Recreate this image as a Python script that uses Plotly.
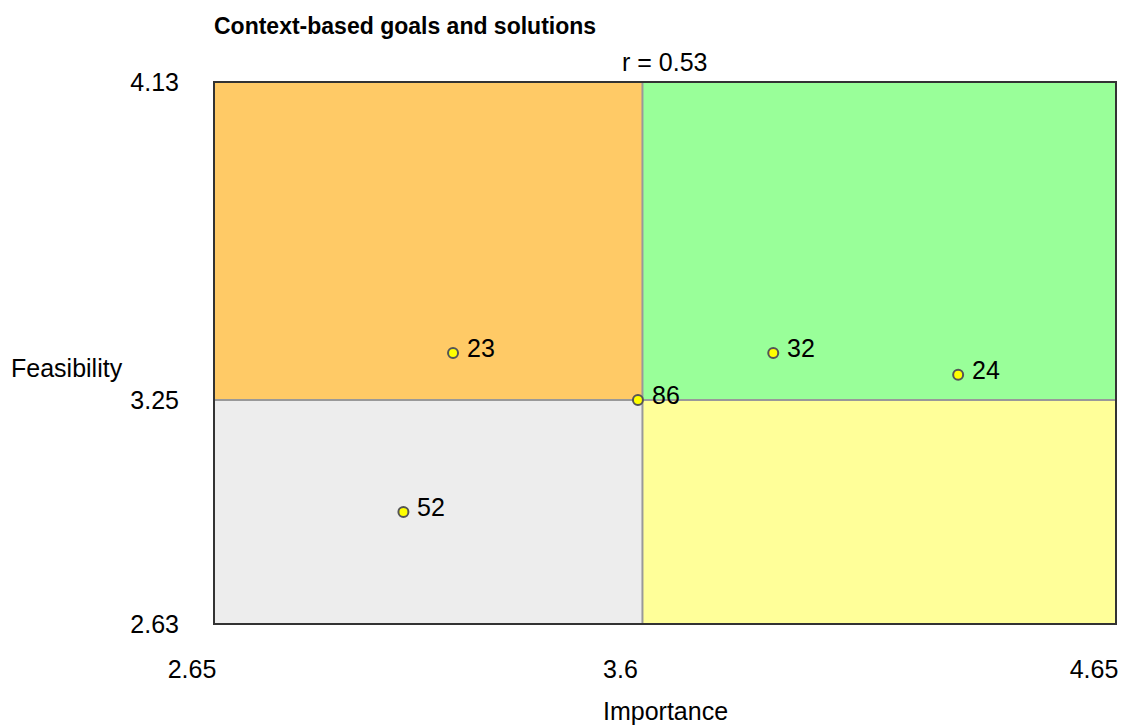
import plotly.graph_objects as go

# Data
labels = ["23", "86", "32", "24", "52"]
importance = [3.18, 3.59, 3.89, 4.30, 3.07]
feasibility = [3.38, 3.25, 3.38, 3.32, 2.94]

x_min, x_mid, x_max = 2.65, 3.6, 4.65
y_min, y_mid, y_max = 2.63, 3.25, 4.13
x_ticks = [2.65, 3.6, 4.65]
y_ticks = [2.63, 3.25, 4.13]
x_tick_text = ["2.65", "3.6", "4.65"]
y_tick_text = ["2.63", "3.25", "4.13"]

title = "Context-based goals and solutions"
r_label = "r = 0.53"

FONT = "Liberation Sans, Arial, sans-serif"
FS = 25

fig = go.Figure()

# Quadrants
quads = [
    (x_min, x_mid, y_mid, y_max, "#FFCA66"),
    (x_mid, x_max, y_mid, y_max, "#99FF99"),
    (x_min, x_mid, y_min, y_mid, "#EDEDED"),
    (x_mid, x_max, y_min, y_mid, "#FFFF99"),
]
for x0, x1, y0, y1, c in quads:
    fig.add_shape(type="rect", x0=x0, x1=x1, y0=y0, y1=y1, xref="x", yref="y",
                  fillcolor=c, line_width=0, layer="below")
# Divider lines
fig.add_shape(type="line", x0=x_mid, x1=x_mid, y0=y_min, y1=y_max, xref="x", yref="y",
              line=dict(color="#999999", width=2), layer="below")
fig.add_shape(type="line", x0=x_min, x1=x_max, y0=y_mid, y1=y_mid, xref="x", yref="y",
              line=dict(color="#999999", width=2), layer="below")
# Border
fig.add_shape(type="rect", x0=0, x1=1, y0=0, y1=1, xref="paper", yref="paper",
              line=dict(color="#333333", width=2), fillcolor="rgba(0,0,0,0)", layer="above")

fig.add_trace(go.Scatter(
    x=importance, y=feasibility, mode="markers",
    marker=dict(size=10, color="#FFFF00", line=dict(color="#555555", width=2)),
    hoverinfo="skip", showlegend=False, cliponaxis=False,
))

for lab, xv, yv in zip(labels, importance, feasibility):
    fig.add_annotation(x=xv, y=yv, text=lab, showarrow=False, xanchor="left",
                       yanchor="middle", xshift=12, yshift=5,
                       font=dict(family=FONT, size=FS, color="#000000"))

# Titles
fig.add_annotation(xref="paper", yref="paper", x=0.0, y=1.0, yshift=56, xshift=-2,
                   xanchor="left", yanchor="middle", text="<b>" + title + "</b>",
                   showarrow=False, font=dict(family=FONT, size=23, color="#000000"))
fig.add_annotation(xref="x", yref="paper", x=3.6, y=1.0, yshift=20, xshift=22,
                   xanchor="center", yanchor="middle", text=r_label,
                   showarrow=False, font=dict(family=FONT, size=FS, color="#000000"))
fig.add_annotation(xref="paper", yref="paper", x=0.5, y=0, yshift=-87,
                   xanchor="center", yanchor="middle", text="Importance",
                   showarrow=False, font=dict(family=FONT, size=FS, color="#000000"))
fig.add_annotation(xref="paper", yref="paper", x=0, y=0.472, xshift=-205,
                   xanchor="left", yanchor="middle", text="Feasibility",
                   showarrow=False, font=dict(family=FONT, size=FS, color="#000000"))

fig.update_layout(
    width=1127, height=725,
    margin=dict(l=214, r=9, t=82, b=101),
    paper_bgcolor="white", plot_bgcolor="white",
    font=dict(family=FONT, size=FS, color="#000000"),
    xaxis=dict(range=[x_min, x_max], tickvals=x_ticks, ticktext=x_tick_text,
               showgrid=False, zeroline=False, showline=False, ticks="",
               ticklabelstandoff=28, ticklabelshift=-22,
               tickfont=dict(family=FONT, size=FS, color="#000000")),
    yaxis=dict(range=[y_min, y_max], tickvals=y_ticks, ticktext=y_tick_text,
               showgrid=False, zeroline=False, showline=False, ticks="",
               ticklabelstandoff=34,
               tickfont=dict(family=FONT, size=FS, color="#000000")),
)

fig.write_html(
    "out.html",
    config={"displayModeBar": False},
    post_script="document.body.style.margin='0';document.body.style.overflow='hidden';",
)
